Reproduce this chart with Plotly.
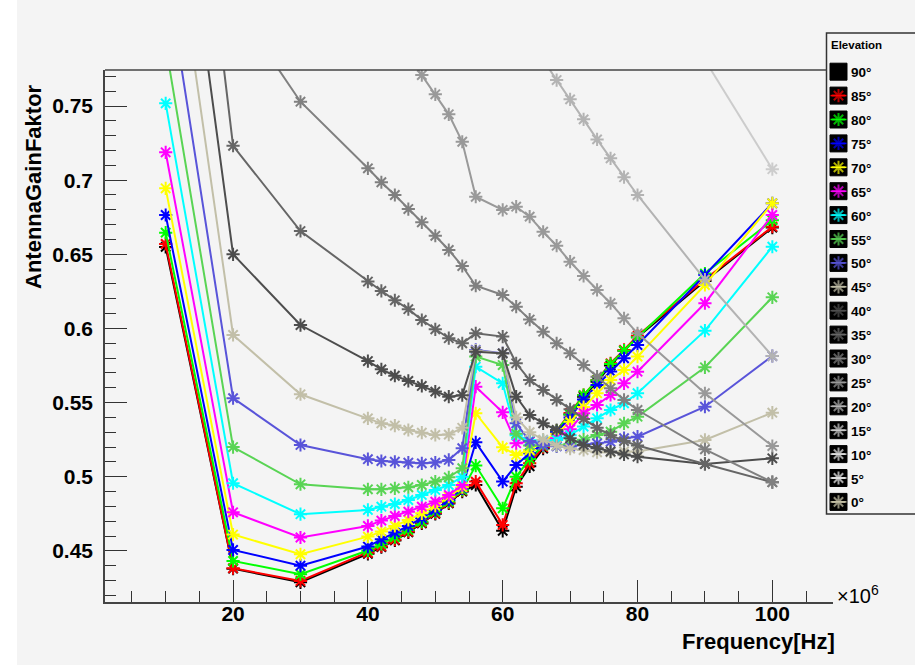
import plotly.graph_objects as go

# ---------------- data ----------------
FREQ_MHZ = [10, 20, 30, 40, 42, 44, 46, 48, 50, 52, 54, 56, 60, 62, 64, 66, 68, 70, 72, 74, 76, 78, 80, 90, 100]

GAIN_90 = [0.655, 0.438, 0.4288, 0.448, 0.4525, 0.457, 0.4625, 0.4685, 0.475, 0.482, 0.490, 0.4944, 0.4635, 0.4933, 0.507, 0.519, 0.530, 0.542, 0.554, 0.564, 0.575, 0.585, 0.594, 0.632, 0.668]
GAIN_85 = [0.657, 0.4383, 0.4297, 0.4487, 0.453, 0.4575, 0.463, 0.469, 0.4755, 0.4825, 0.4906, 0.4967, 0.4675, 0.4956, 0.509, 0.520, 0.531, 0.543, 0.555, 0.5652, 0.5765, 0.5855, 0.595, 0.633, 0.6686]
GAIN_80 = [0.6646, 0.4432, 0.4342, 0.4502, 0.4547, 0.4592, 0.4641, 0.4697, 0.4764, 0.4832, 0.4911, 0.5075, 0.4787, 0.500, 0.512, 0.521, 0.531, 0.542, 0.555, 0.565, 0.576, 0.585, 0.594, 0.637, 0.673]
GAIN_75 = [0.6765, 0.4506, 0.440, 0.4529, 0.4578, 0.4623, 0.4668, 0.472, 0.4776, 0.4843, 0.4922, 0.5232, 0.4967, 0.5079, 0.5158, 0.522, 0.530, 0.540, 0.552, 0.5619, 0.571, 0.5799, 0.5888, 0.636, 0.6844]
GAIN_70 = [0.6945, 0.461, 0.4477, 0.4596, 0.463, 0.4668, 0.4708, 0.4753, 0.4803, 0.4866, 0.4929, 0.5428, 0.5198, 0.5147, 0.518, 0.524, 0.529, 0.537, 0.547, 0.5563, 0.5652, 0.572, 0.581, 0.6293, 0.6844]
GAIN_65 = [0.7188, 0.476, 0.459, 0.4668, 0.4704, 0.4735, 0.4764, 0.4798, 0.4832, 0.4877, 0.4944, 0.5607, 0.5434, 0.5226, 0.5237, 0.524, 0.526, 0.532, 0.5428, 0.5484, 0.5551, 0.563, 0.5708, 0.617, 0.6765]
GAIN_60 = [0.7518, 0.4956, 0.4747, 0.4776, 0.4798, 0.4816, 0.4843, 0.4877, 0.4911, 0.4944, 0.500, 0.5742, 0.563, 0.528, 0.5245, 0.5245, 0.5248, 0.528, 0.5338, 0.5394, 0.545, 0.5495, 0.5563, 0.5985, 0.6551]
GAIN_55 = [0.791, 0.520, 0.4949, 0.4915, 0.4915, 0.4922, 0.4929, 0.4944, 0.4967, 0.4996, 0.5057, 0.581, 0.5753, 0.529, 0.521, 0.521, 0.521, 0.522, 0.525, 0.5282, 0.5304, 0.536, 0.5405, 0.5738, 0.621]
GAIN_50 = [0.844, 0.553, 0.5214, 0.5118, 0.5106, 0.5101, 0.5095, 0.509, 0.5095, 0.5113, 0.5192, 0.5855, 0.5832, 0.536, 0.524, 0.5215, 0.5205, 0.5203, 0.5215, 0.5225, 0.5235, 0.526, 0.527, 0.5472, 0.5814]
GAIN_45 = [0.913, 0.5956, 0.5556, 0.5394, 0.536, 0.5345, 0.5315, 0.5297, 0.5282, 0.5284, 0.533, 0.585, 0.583, 0.540, 0.530, 0.525, 0.521, 0.519, 0.518, 0.5165, 0.5165, 0.517, 0.517, 0.5248, 0.5432]
GAIN_40 = [0.989, 0.650, 0.6023, 0.578, 0.5724, 0.5681, 0.5646, 0.5612, 0.5574, 0.554, 0.555, 0.5843, 0.5832, 0.554, 0.5416, 0.536, 0.5315, 0.526, 0.5214, 0.5192, 0.517, 0.515, 0.5135, 0.5086, 0.5124]
GAIN_35 = [1.105, 0.7232, 0.6657, 0.6316, 0.6253, 0.619, 0.613, 0.6057, 0.5994, 0.5934, 0.590, 0.5967, 0.5945, 0.5765, 0.5652, 0.5585, 0.5518, 0.5455, 0.539, 0.533, 0.528, 0.524, 0.521, 0.5086, 0.4963]
GAIN_30 = [None, 0.82, 0.7529, 0.708, 0.6986, 0.690, 0.6805, 0.6716, 0.6625, 0.6529, 0.6421, 0.6288, 0.6226, 0.6147, 0.606, 0.5978, 0.590, 0.5832, 0.5753, 0.5675, 0.5596, 0.5518, 0.545, 0.5185, 0.4963]
GAIN_25 = [None, None, None, None, None, None, 0.784, 0.7709, 0.7579, 0.7444, 0.7259, 0.6888, 0.6799, 0.6821, 0.6754, 0.6652, 0.6558, 0.645, 0.6354, 0.626, 0.617, 0.6068, 0.5967, 0.5563, 0.5207]
GAIN_20 = [None, None, None, None, None, None, None, None, None, None, None, None, None, None, None, 0.781, 0.7675, 0.7545, 0.741, 0.7275, 0.7147, 0.702, 0.69, 0.633, 0.5814]
GAIN_15 = [None, None, None, None, None, None, None, None, None, None, None, None, None, None, None, None, None, None, None, None, None, None, None, 0.781, 0.7074]
GAIN_10 = [None, None, None, None, None, None, None, None, None, None, None, None, None, None, None, None, None, None, None, None, None, None, None, None, None]
GAIN_5 = [None, None, None, None, None, None, None, None, None, None, None, None, None, None, None, None, None, None, None, None, None, None, None, None, None]
GAIN_0 = [None, None, None, None, None, None, None, None, None, None, None, None, None, None, None, None, None, None, None, None, None, None, None, None, None]

ELEVATIONS = ["90°", "85°", "80°", "75°", "70°", "65°", "60°", "55°", "50°", "45°",
              "40°", "35°", "30°", "25°", "20°", "15°", "10°", "5°", "0°"]
SERIES = [GAIN_90, GAIN_85, GAIN_80, GAIN_75, GAIN_70, GAIN_65, GAIN_60, GAIN_55, GAIN_50, GAIN_45,
          GAIN_40, GAIN_35, GAIN_30, GAIN_25, GAIN_20, GAIN_15, GAIN_10, GAIN_5, GAIN_0]
COLORS = ["#000000", "#ff0000", "#00ff00", "#0000ff", "#ffff00", "#ff00ff", "#00ffff", "#59d454", "#5954d9",
          "#c2bfa8", "#4d4d4d", "#666666", "#808080", "#999999", "#b3b3b3", "#cccccc", "#e6e6e6", "#f2f2f2", "#ccc7ab"]

X_TICKS = [20, 40, 60, 80, 100]
X_TICK_TEXT = ["20", "40", "60", "80", "100"]

# ---------------- geometry (pixels) ----------------
W, H = 915, 665
L, R_PLOT, T_PLOT, B_PLOT = 105, 833, 70, 602
T_AREA = 30
AREA_W = W - L
AREA_H = B_PLOT - T_AREA
FONT = "Liberation Sans, Arial, Helvetica, sans-serif"


def px(xp):
    return (xp - L) / AREA_W


def py(yp):
    return (B_PLOT - yp) / AREA_H


fig = go.Figure()

for name, ys, col in zip(ELEVATIONS, SERIES, COLORS):
    fig.add_trace(go.Scatter(
        x=FREQ_MHZ, y=ys, name=name, mode="lines+markers",
        line=dict(color=col, width=2),
        marker=dict(symbol="asterisk-open", size=11, color=col, line=dict(color=col, width=2)),
        connectgaps=False, showlegend=False, cliponaxis=True,
        xaxis="x", yaxis="y",
    ))

# ---------------- custom ROOT-like legend (pixel axis x2/y2) ----------------
row0, drow = 71.7, 23.9
shapes = []
annotations = []
# thin white strip along the left edge of the canvas
shapes.append(dict(type="rect", xref="paper", yref="paper", x0=px(0), x1=px(17), y0=py(H), y1=py(0),
                   line=dict(width=0), fillcolor="#ffffff", layer="below"))
shapes.append(dict(type="rect", xref="x2", yref="y2", x0=826.5, x1=917, y0=33, y1=514,
                   line=dict(color="#333333", width=1.5), fillcolor="#f4f4f4", layer="below"))
annotations.append(dict(xref="x2", yref="y2", x=829, y=45, text="<b>Elevation</b>", showarrow=False,
                        xanchor="left", yanchor="middle", font=dict(family=FONT, size=11.5, color="black")))
for i, (name, col) in enumerate(zip(ELEVATIONS, COLORS)):
    yy = row0 + drow * i
    shapes.append(dict(type="rect", xref="x2", yref="y2", x0=830, x1=847, y0=yy - 8.5, y1=yy + 8.5,
                       line=dict(color="#000000", width=1), fillcolor="#000000", layer="below"))
    fig.add_trace(go.Scatter(
        x=[830.5, 838.5, 846.5], y=[yy, yy, yy], mode="lines+markers",
        line=dict(color=col, width=1.5),
        marker=dict(symbol="asterisk-open", size=[0, 11, 0], color=col, line=dict(color=col, width=2)),
        showlegend=False, hoverinfo="skip", xaxis="x2", yaxis="y2",
    ))
    annotations.append(dict(xref="x2", yref="y2", x=849, y=yy + 1, text="<b>" + name + "</b>", showarrow=False,
                            xanchor="left", yanchor="middle", font=dict(family=FONT, size=13.5, color="black")))

# frame top line (ends at the legend box)
shapes.append(dict(type="line", xref="x2", yref="y2", x0=L, x1=826.5, y0=T_PLOT, y1=T_PLOT,
                   line=dict(color="#444444", width=1.5), layer="above"))

# axis titles & exponent (paper coordinates)
annotations.append(dict(xref="paper", yref="paper", x=px(33), y=py(187), text="<b>AntennaGainFaktor</b>",
                        textangle=-90, showarrow=False, xanchor="center", yanchor="middle",
                        font=dict(family=FONT, size=22, color="black")))
annotations.append(dict(xref="paper", yref="paper", x=px(837), y=py(641), text="<b>Frequency[Hz]</b>",
                        showarrow=False, xanchor="right", yanchor="middle",
                        font=dict(family=FONT, size=22, color="black")))
annotations.append(dict(xref="paper", yref="paper", x=px(835), y=py(594), text="×10<sup>6</sup>",
                        showarrow=False, xanchor="left", yanchor="middle",
                        font=dict(family=FONT, size=20, color="black")))

tickfont = dict(family=FONT, size=21, color="black", weight="bold")

fig.update_layout(
    width=W, height=H,
    margin=dict(l=L, r=0, t=T_AREA, b=H - B_PLOT, pad=0),
    paper_bgcolor="#f4f4f4", plot_bgcolor="rgba(0,0,0,0)",
    showlegend=False,
    xaxis=dict(domain=[0, (R_PLOT - L) / AREA_W], range=[1, 109], anchor="y",
               tickmode="array", tickvals=X_TICKS, ticktext=X_TICK_TEXT,
               ticks="inside", ticklen=22, tickwidth=1, tickcolor="#333333",
               minor=dict(dtick=5, tick0=0, ticks="inside", ticklen=11, tickwidth=1, tickcolor="#333333"),
               showgrid=False, zeroline=False, showline=True, linecolor="#444444", linewidth=1.5,
               tickfont=tickfont, ticklabelstandoff=-8),
    yaxis=dict(domain=[0, (B_PLOT - T_PLOT) / AREA_H], range=[0.4155, 0.7743], anchor="x",
               tick0=0.45, dtick=0.05,
               ticks="inside", ticklen=22, tickwidth=1, tickcolor="#333333",
               minor=dict(dtick=0.01, tick0=0.45, ticks="inside", ticklen=11, tickwidth=1, tickcolor="#333333"),
               showgrid=False, zeroline=False, showline=True, linecolor="#444444", linewidth=1.5,
               tickfont=tickfont, ticklabelstandoff=6),
    xaxis2=dict(domain=[0, 1], range=[L, W], anchor="y2", visible=False, fixedrange=True),
    yaxis2=dict(domain=[0, 1], range=[B_PLOT, T_AREA], anchor="x2", visible=False, fixedrange=True),
    shapes=shapes, annotations=annotations,
)

fig.write_html("out.html")
